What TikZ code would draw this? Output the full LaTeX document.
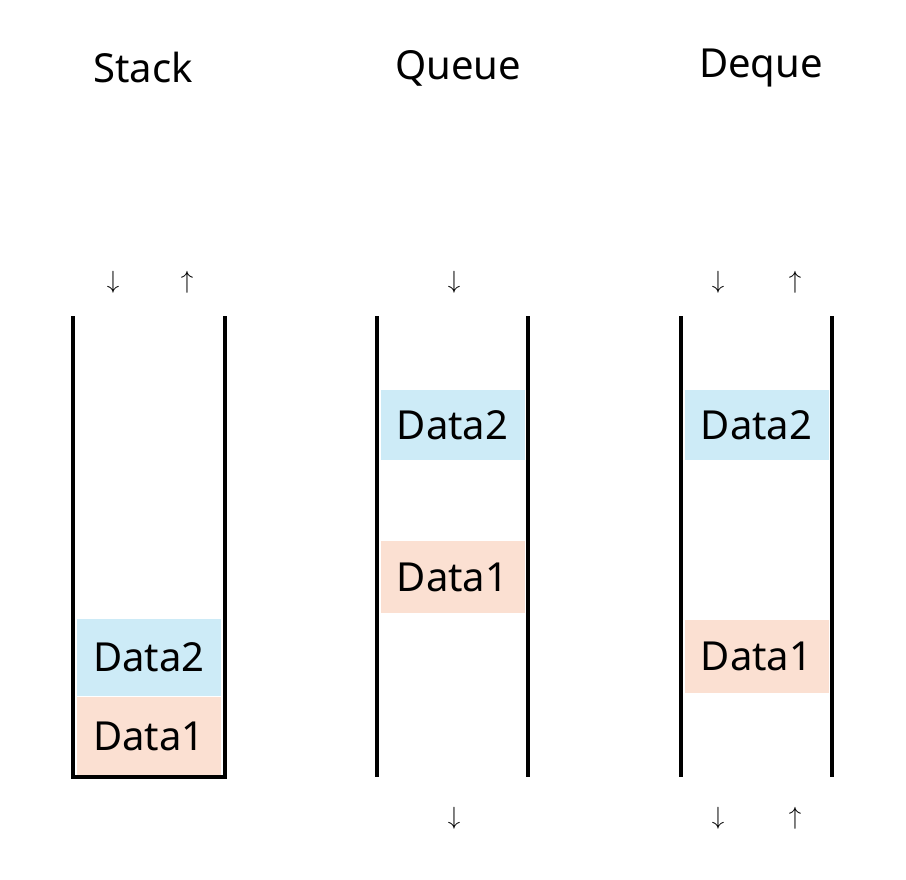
\documentclass[tikz,border=0pt]{standalone}
\usepackage{fontspec}
\setmainfont{Noto Sans}
\definecolor{dblue}{HTML}{CDEBF7}
\definecolor{dred}{HTML}{FBE0D2}
\tikzset{
  wall/.style={line width=4.5pt},
  title/.style={font=\fontsize{40}{44}\selectfont},
  arr/.style={font=\fontsize{30}{34}\selectfont},
  data/.style={inner sep=0pt, minimum width=144pt, font=\fontsize{40}{44}\selectfont}
}
\begin{document}
\begin{tikzpicture}[x=1pt,y=-1pt]
\useasboundingbox (0,0) rectangle (906,880);
% titles
\node[title] (tstack) at (143,68) {Stack};
\node[title] (tqueue) at (458,68) {Queue};
\node[title] (tdeque) at (761,68) {Deque};
% walls
\coordinate (s1) at (73,316); \coordinate (s2) at (73,777);
\coordinate (s3) at (225,777); \coordinate (s4) at (225,316);
\draw[wall] (s1) -- (s2) -- (s3) -- (s4);
\coordinate (q1) at (377,316); \coordinate (q2) at (377,777);
\coordinate (q3) at (528,316); \coordinate (q4) at (528,777);
\draw[wall] (q1) -- (q2) (q3) -- (q4);
\coordinate (d1) at (681,316); \coordinate (d2) at (681,777);
\coordinate (d3) at (832,316); \coordinate (d4) at (832,777);
\draw[wall] (d1) -- (d2) (d3) -- (d4);
% data
\node[data, fill=dblue, minimum height=77pt] (sdata2) at (149,657.5) {Data2};
\node[data, fill=dred, minimum height=78pt] (sdata1) at (149,736) {Data1};
\node[data, fill=dblue, minimum height=70pt] (qdata2) at (452.5,425) {Data2};
\node[data, fill=dred, minimum height=72pt] (qdata1) at (452.5,577) {Data1};
\node[data, fill=dblue, minimum height=70pt] (ddata2) at (756.5,425) {Data2};
\node[data, fill=dred, minimum height=73pt] (ddata1) at (756.5,656.5) {Data1};
% arrows
\node[arr] (spush) at (113,282) {$\downarrow$};
\node[arr] (spop) at (187,282) {$\uparrow$};
\node[arr] (qin) at (454,282) {$\downarrow$};
\node[arr] (din) at (718,282) {$\downarrow$};
\node[arr] (dout) at (795,282) {$\uparrow$};
\node[arr] (qout) at (454,818) {$\downarrow$};
\node[arr] (dbin) at (718,818) {$\downarrow$};
\node[arr] (dbout) at (795,818) {$\uparrow$};
\end{tikzpicture}
\end{document}
